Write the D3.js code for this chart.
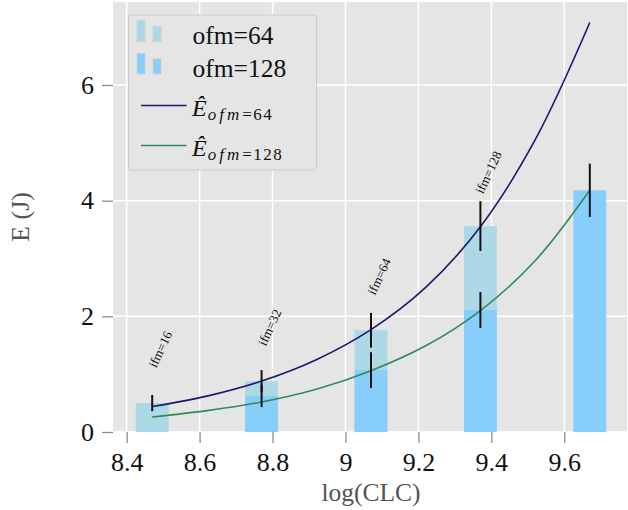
<!DOCTYPE html>
<html>
<head>
<meta charset="utf-8">
<script src="https://cdn.jsdelivr.net/npm/d3@7"></script>
<style>
  body { margin: 0; background: white; }
  text { font-family: "Liberation Serif", "DejaVu Serif", serif; }
</style>
</head>
<body>
<script>
// measured points (log of CLC) for the ifm configurations
var logClc = [8.47, 8.77, 9.07, 9.37, 9.67];
var ifmNames = ["ifm=16", "ifm=32", "ifm=64", "ifm=128", null];

// energy per config, ofm = 64 and ofm = 128 (null = not measured)
var energy64 = [0.50, 0.88, 1.76, 3.56, null];
var err64 = [0.14, 0.19, 0.30, 0.43, null];
var energy128 = [null, 0.62, 1.07, 2.11, 4.18];
var err128 = [null, 0.19, 0.31, 0.31, 0.46];

// fitted model curves
var fitX = [8.47, 8.62, 8.77, 8.92, 9.07, 9.22, 9.37, 9.52, 9.67];
var fit64 = [0.44, 0.62, 0.88, 1.25, 1.77, 2.50, 3.55, 5.05, 7.08];
var fit128 = [0.26, 0.37, 0.52, 0.74, 1.06, 1.49, 2.10, 2.96, 4.18];

var xTicks = [8.4, 8.6, 8.8, 9, 9.2, 9.4, 9.6];
var yTicks = [0, 2, 4, 6];

var col64 = "#add8e6", col128 = "#87cefa";
var line64 = "#191970", line128 = "#2e8b57";

var width = 628, height = 510;
var plot = {left: 113, right: 627, top: 2, bottom: 432};

var svg = d3.select("body").append("svg")
    .attr("width", width)
    .attr("height", height);

var x = d3.scaleLinear().domain([8.3625, 9.772]).range([plot.left, plot.right]);
var y = d3.scaleLinear().domain([0, 7.435]).range([plot.bottom, plot.top]);
var barW = x(8.49) - x(8.40);

// background + grid
svg.append("rect")
    .attr("x", plot.left).attr("y", plot.top)
    .attr("width", plot.right - plot.left)
    .attr("height", plot.bottom - plot.top)
    .attr("fill", "#e5e5e5");

svg.append("g").selectAll("line").data(xTicks).enter().append("line")
    .attr("x1", d => x(d)).attr("x2", d => x(d))
    .attr("y1", plot.top).attr("y2", plot.bottom)
    .attr("stroke", "white").attr("stroke-width", 1.5);

svg.append("g").selectAll("line").data(yTicks).enter().append("line")
    .attr("x1", plot.left).attr("x2", plot.right)
    .attr("y1", d => y(d)).attr("y2", d => y(d))
    .attr("stroke", "white").attr("stroke-width", 1.5);

// axes
var xAxis = svg.append("g")
    .attr("transform", "translate(0," + plot.bottom + ")")
    .call(d3.axisBottom(x).tickValues(xTicks).tickSize(11).tickPadding(9.5)
      .tickFormat(d3.format("~g")));
var yAxis = svg.append("g")
    .attr("transform", "translate(" + plot.left + ",0)")
    .call(d3.axisLeft(y).tickValues(yTicks).tickSize(11).tickPadding(8)
      .tickFormat(d3.format("~g")));

[xAxis, yAxis].forEach(function(a) {
  a.attr("font-family", "'Liberation Serif', serif");
  a.select(".domain").remove();
  a.selectAll(".tick line").attr("stroke", "#8c8c8c").attr("stroke-width", 1.3);
  a.selectAll(".tick text")
    .attr("fill", "#111")
    .style("font-family", "'Liberation Serif', serif")
    .style("font-size", "26px");
});
yAxis.selectAll(".tick text").attr("dy", "0.32em");

// bars, ofm=64 behind ofm=128
var idx = d3.range(logClc.length);
svg.append("g").selectAll("rect")
    .data(idx.filter(i => energy64[i] != null)).enter().append("rect")
    .attr("x", i => x(logClc[i]) - barW / 2)
    .attr("width", barW)
    .attr("y", i => y(energy64[i]))
    .attr("height", i => y(0) - y(energy64[i]))
    .attr("fill", col64);

svg.append("g").selectAll("rect")
    .data(idx.filter(i => energy128[i] != null)).enter().append("rect")
    .attr("x", i => x(logClc[i]) - barW / 2)
    .attr("width", barW)
    .attr("y", i => y(energy128[i]))
    .attr("height", i => y(0) - y(energy128[i]))
    .attr("fill", col128);

// model curves
var line = d3.line()
    .x(d => x(d[0]))
    .y(d => y(d[1]))
    .curve(d3.curveCatmullRom);

svg.append("path")
    .attr("d", line(fitX.map((v, i) => [v, fit64[i]])))
    .attr("fill", "none").attr("stroke", line64).attr("stroke-width", 1.6);
svg.append("path")
    .attr("d", line(fitX.map((v, i) => [v, fit128[i]])))
    .attr("fill", "none").attr("stroke", line128).attr("stroke-width", 1.6);

// error bars
function errBars(vals, errs) {
  svg.append("g").selectAll("line")
      .data(idx.filter(i => vals[i] != null)).enter().append("line")
      .attr("x1", i => x(logClc[i])).attr("x2", i => x(logClc[i]))
      .attr("y1", i => y(vals[i] + errs[i]))
      .attr("y2", i => y(vals[i] - errs[i]))
      .attr("stroke", "#111").attr("stroke-width", 2);
}
errBars(energy64, err64);
errBars(energy128, err128);

// ifm labels above the ofm=64 bars
svg.append("g").selectAll("text")
    .data(idx.filter(i => ifmNames[i] != null)).enter().append("text")
    .attr("transform", i => "translate(" + (x(logClc[i]) + 8) + "," + y(energy64[i] + 0.93) + ")rotate(-65)")
    .attr("text-anchor", "middle")
    .attr("dy", "0.35em")
    .style("font-size", "13px")
    .attr("fill", "#111")
    .text(i => ifmNames[i]);

// axis titles
svg.append("text")
    .attr("x", 371).attr("y", 501)
    .attr("text-anchor", "middle")
    .attr("fill", "#555")
    .style("font-size", "25.5px")
    .text("log(CLC)");

svg.append("text")
    .attr("transform", "translate(29,217)rotate(-90)")
    .attr("text-anchor", "middle")
    .attr("fill", "#555")
    .style("font-size", "26px")
    .text("E (J)");

// legend
var legend = svg.append("g");
legend.append("rect")
    .attr("x", 128.5).attr("y", 15)
    .attr("width", 188).attr("height", 155)
    .attr("rx", 2)
    .attr("fill", "#e5e5e5")
    .attr("stroke", "#cccccc");

var barItems = [
  {label: "ofm=64", color: col64, top: 20.7, bottom: 41.7},
  {label: "ofm=128", color: col128, top: 53.3, bottom: 74}
];
barItems.forEach(function(d) {
  legend.append("rect")
      .attr("x", 137).attr("y", d.top)
      .attr("width", 8).attr("height", d.bottom - d.top)
      .attr("fill", d.color).attr("stroke", "#cfcfcf").attr("stroke-width", 0.8);
  legend.append("rect")
      .attr("x", 153).attr("y", d.top + 5.5)
      .attr("width", 8).attr("height", d.bottom - d.top - 5.5)
      .attr("fill", d.color).attr("stroke", "#cfcfcf").attr("stroke-width", 0.8);
  legend.append("text")
      .attr("x", 192.5).attr("y", d.bottom + 2.6)
      .style("font-size", "25.5px")
      .attr("fill", "#111")
      .text(d.label);
});

var lineItems = [
  {sub: "64", color: line64, ly: 105.5, ty: 116},
  {sub: "128", color: line128, ly: 145.5, ty: 155.5}
];
lineItems.forEach(function(d) {
  legend.append("line")
      .attr("x1", 141).attr("x2", 186.5)
      .attr("y1", d.ly).attr("y2", d.ly)
      .attr("stroke", d.color).attr("stroke-width", 1.6);
  var t = legend.append("text")
      .attr("x", 192).attr("y", d.ty)
      .attr("fill", "#111");
  t.append("tspan")
      .style("font-size", "24px").style("font-style", "italic")
      .text("\u00CA");
  t.append("tspan")
      .attr("dy", 4)
      .attr("dx", 1)
      .style("font-size", "17px").style("font-style", "italic")
      .style("letter-spacing", "3px")
      .text("ofm");
  t.append("tspan")
      .style("font-size", "17px")
      .style("letter-spacing", "1.5px")
      .text("=" + d.sub);
});
</script>
</body>
</html>
